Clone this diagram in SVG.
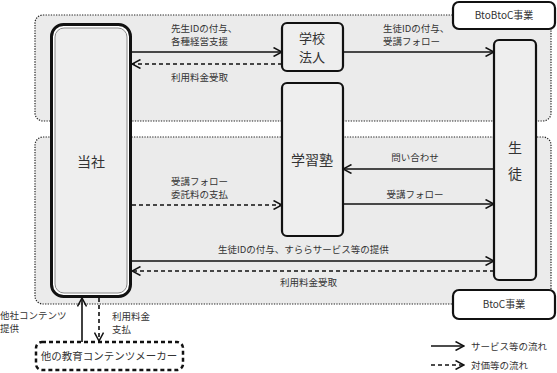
<svg xmlns="http://www.w3.org/2000/svg" width="557" height="373" viewBox="0 0 557 373">
<defs>
<marker id="ah" viewBox="0 0 10 10" refX="9.5" refY="5" markerWidth="10" markerHeight="10" markerUnits="userSpaceOnUse" orient="auto">
<path d="M1,0.5 L9.5,5 L1,9.5" fill="none" stroke="#111" stroke-width="1.5"/>
</marker>
<style>
.region{fill:#ebebeb;stroke:#222;stroke-width:1.2;stroke-dasharray:1.3 1.3}
.node{fill:#eeeeee;stroke:#111;stroke-width:2.2}
.tag{fill:#fff;stroke:#111;stroke-width:2.2}
.solid{fill:none;stroke:#111;stroke-width:1.6;marker-end:url(#ah)}
.dash{fill:none;stroke:#111;stroke-width:1.6;stroke-dasharray:4 3;marker-end:url(#ah)}
text{font-family:"Noto Sans CJK JP","Noto Sans",sans-serif;fill:#333}
.lbl{font-size:9.5px}
.nt{font-size:14px;text-anchor:middle}
.tg{font-size:10px;text-anchor:middle}
</style>
</defs>
<rect width="557" height="373" fill="#fff"/>
<g id="regions">
<rect class="region" x="35" y="15" width="516" height="106" rx="8"/>
<rect class="region" x="35" y="137" width="516" height="167" rx="8"/>
</g>
<g id="tag-btobtoc"><rect class="tag" x="453" y="2" width="102" height="27" rx="6"/><text class="tg" x="504" y="19">BtoBtoC事業</text></g>
<g id="tag-btoc"><rect class="tag" x="453" y="290" width="102" height="29" rx="6"/><text class="tg" x="504" y="308">BtoC事業</text></g>
<g id="touei">
<rect x="51.5" y="24.5" width="79" height="272" rx="12" fill="#fff" stroke="#111" stroke-width="3"/>
<rect x="55" y="28" width="72" height="265" rx="9" fill="#eeeeee" stroke="#888" stroke-width="1"/>
<text class="nt" x="91" y="167">当社</text>
</g>
<g id="gakkou"><rect class="node" x="282" y="23" width="61" height="48" rx="5"/><text class="nt" x="312" y="43" style="font-size:13px">学校</text><text class="nt" x="312" y="62" style="font-size:13px">法人</text></g>
<g id="juku"><rect class="node" x="282" y="83" width="61" height="153" rx="5"/><text class="nt" x="312" y="165">学習塾</text></g>
<g id="seito"><rect class="node" x="494" y="40" width="42" height="240" rx="5"/><text class="nt" x="515" y="153">生</text><text class="nt" x="515" y="179">徒</text></g>
<g id="maker"><rect x="36" y="342" width="147" height="28" rx="6" fill="#fff" stroke="#111" stroke-width="2.5" stroke-dasharray="4 3"/><text class="tg" x="109" y="360" style="font-size:10.5px">他の教育コンテンツメーカー</text></g>
<g id="connectors">
<line class="solid" x1="132" y1="52" x2="282" y2="52"/>
<line class="dash" x1="282" y1="64" x2="132" y2="64"/>
<line class="solid" x1="343" y1="52" x2="494" y2="52"/>
<line class="solid" x1="494" y1="169" x2="343" y2="169"/>
<line class="solid" x1="343" y1="204" x2="494" y2="204"/>
<line class="dash" x1="132" y1="205" x2="282" y2="205"/>
<line class="solid" x1="132" y1="261" x2="494" y2="261"/>
<line class="dash" x1="494" y1="271" x2="132" y2="271"/>
<line class="solid" x1="82" y1="342" x2="82" y2="298"/>
<line class="dash" x1="99" y1="298" x2="99" y2="341"/>
</g>
<g id="labels">
<text class="lbl" x="171" y="32">先生IDの付与、</text>
<text class="lbl" x="171" y="45">各種経営支援</text>
<text class="lbl" x="171" y="81">利用料金受取</text>
<text class="lbl" x="383" y="32">生徒IDの付与、</text>
<text class="lbl" x="383" y="45">受講フォロー</text>
<text class="lbl" x="415" y="161" text-anchor="middle">問い合わせ</text>
<text class="lbl" x="415" y="198" text-anchor="middle">受講フォロー</text>
<text class="lbl" x="171" y="185">受講フォロー</text>
<text class="lbl" x="171" y="198">委託料の支払</text>
<text class="lbl" x="218" y="253">生徒IDの付与、すららサービス等の提供</text>
<text class="lbl" x="280" y="286">利用料金受取</text>
<text class="lbl" x="0" y="319">他社コンテンツ</text>
<text class="lbl" x="0" y="332">提供</text>
<text class="lbl" x="112" y="320">利用料金</text>
<text class="lbl" x="112" y="333">支払</text>
</g>
<g id="legend">
<line class="solid" x1="431" y1="346" x2="464" y2="346"/>
<text class="lbl" x="471" y="350">サービス等の流れ</text>
<line class="dash" x1="431" y1="365" x2="464" y2="365"/>
<text class="lbl" x="471" y="369">対価等の流れ</text>
</g>
</svg>
